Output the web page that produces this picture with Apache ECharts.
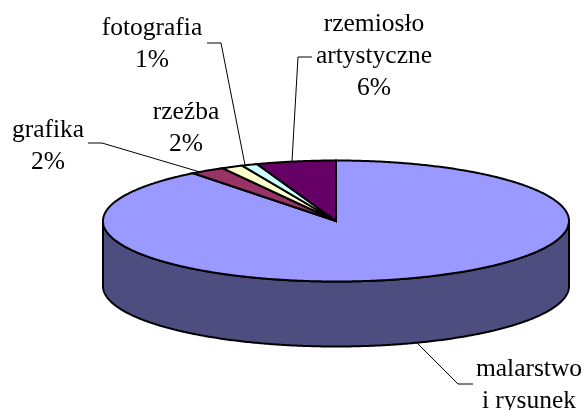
<!DOCTYPE html>
<html lang="pl">
<head>
	<meta charset="utf-8">
	<title>Struktura zbiorów</title>
	<style>
		html, body { margin: 0; padding: 0; background: #fff; }
		#chart { width: 585px; height: 410px; }
	</style>
	<script src="https://cdn.jsdelivr.net/npm/echarts@6/dist/echarts.min.js"></script>
</head>
<body>
<div id="chart"></div>
<script>
// values, clockwise from 12 o'clock
var categories = ['malarstwo\ni rysunek', 'grafika', 'rzeźba', 'fotografia', 'rzemiosło\nartystyczne'];
var values = [89.5, 2.4, 1.5, 1.1, 5.5];
var topColors = ['#9999ff', '#993366', '#ffffcc', '#ccffff', '#660066'];
var wallColors = ['#4d4d80', '#4d1a33', '#808066', '#668080', '#330033'];

// the tilted pie: ellipse centre, radii and wall height
var cx = 336, cy = 221, rx = 233, ry = 60.5, depth = 65;

// label centres and leader lines, same order as categories
var labelPos = [[529, 369], [48, 130], [186, 112], [152, 28], [374, 24]];
var showPercent = [false, true, true, true, true];
var leaders = [
	[[417, 343], [458, 384], [473, 384]],
	[[88, 143], [102, 143], [200, 172]],
	null,
	[[207, 43], [221, 43], [245, 165]],
	[[312, 57], [298, 57], [292, 161]]
];

var total = values.reduce(function (a, b) { return a + b; }, 0);
var starts = [];
values.reduce(function (sum, v, i) { starts[i] = sum / total * 360; return sum + v; }, 0);

function rim(deg, dy) {
	var r = deg * Math.PI / 180;
	return [cx + rx * Math.sin(r), cy + (dy || 0) - ry * Math.cos(r)];
}

function arc(from, to, dy) {
	var pts = [], n = Math.max(2, Math.ceil(Math.abs(to - from) * 2));
	for (var i = 0; i <= n; i++) {
		pts.push(rim(from + (to - from) * i / n, dy));
	}
	return pts;
}

function renderWall(params, api) {
	var i = params.dataIndex;
	var from = Math.max(starts[i], 90);
	var to = Math.min(starts[i] + api.value(0) / total * 360, 270);
	if (to <= from) return null;
	var pts = arc(from, to, 0).concat(arc(to, from, depth));
	return {
		type: 'polygon',
		shape: { points: pts },
		style: { fill: wallColors[i], stroke: '#000', lineWidth: 2, lineJoin: 'round' }
	};
}

function renderTop(params, api) {
	var i = params.dataIndex;
	var pts = [[cx, cy]].concat(arc(starts[i], starts[i] + api.value(0) / total * 360, 0));
	return {
		type: 'polygon',
		shape: { points: pts },
		style: { fill: topColors[i], stroke: '#000', lineWidth: 2, lineJoin: 'miter' }
	};
}

var graphics = [];
categories.forEach(function (name, i) {
	if (leaders[i]) {
		graphics.push({
			type: 'polyline',
			silent: true,
			shape: { points: leaders[i] },
			style: { fill: null, stroke: '#000', lineWidth: 1 }
		});
	}
	graphics.push({
		type: 'text',
		silent: true,
		x: labelPos[i][0],
		y: labelPos[i][1] - 16,
		style: {
			text: name + (showPercent[i] ? '\n' + Math.round(values[i]) + '%' : ''),
			fill: '#000',
			font: '25.5px "Liberation Serif", serif',
			lineHeight: 32,
			align: 'center',
			verticalAlign: 'top'
		}
	});
});

echarts.init(document.getElementById('chart'), null, { renderer: 'canvas' }).setOption({
	backgroundColor: '#fff',
	animation: false,
	xAxis: { show: false },
	yAxis: { show: false },
	graphic: graphics,
	series: [
		{ type: 'custom', coordinateSystem: 'none', silent: true, z: 1, renderItem: renderWall, data: values },
		{ type: 'custom', coordinateSystem: 'none', silent: true, z: 2, renderItem: renderTop, data: values }
	]
});
</script>
</body>
</html>
